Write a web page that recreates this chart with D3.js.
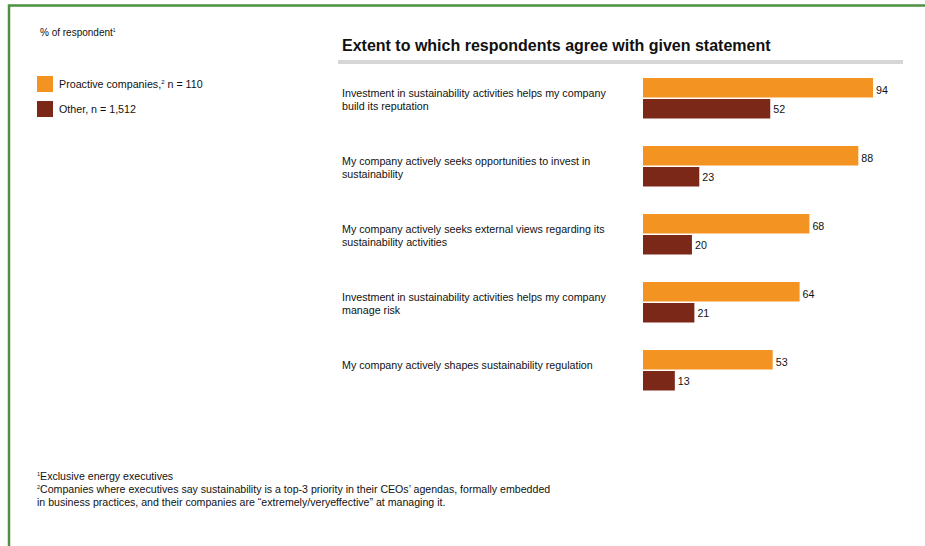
<!DOCTYPE html>
<html>
<head>
<meta charset="utf-8">
<script src="https://cdn.jsdelivr.net/npm/d3@7"></script>
<style>
  body { margin: 0; background: #fff; }
  svg { display: block; font-family: "Liberation Sans", Arial, sans-serif; }
</style>
</head>
<body>
<svg id="chart"></svg>
<script>
// statements (each split into lines as in the original)
var statements = [
  ["Investment in sustainability activities helps my company", "build its reputation"],
  ["My company actively seeks opportunities to invest in", "sustainability"],
  ["My company actively seeks external views regarding its", "sustainability activities"],
  ["Investment in sustainability activities helps my company", "manage risk"],
  ["My company actively shapes sustainability regulation"]
];
var proactive = [94, 88, 68, 64, 53];
var other = [52, 23, 20, 21, 13];
var seriesNames = ["Proactive companies,", "Other, n = 1,512"];
var colors = ["#F39322", "#7C2819"];

var W = 925, H = 546;
var svg = d3.select("#chart").attr("width", W).attr("height", H);

// green frame (top and left only)
svg.append("path")
  .attr("d", "M9,546 V5.5 H925")
  .attr("fill", "none")
  .attr("stroke", "#4E9140")
  .attr("stroke-width", 2.5);

svg.append("text")
  .attr("x", 40).attr("y", 36)
  .attr("font-size", 10).attr("fill", "#111")
  .text("% of respondent")
  .append("tspan").attr("font-size", 5).attr("dy", -4).text("1");

// legend
var legend = svg.append("g");
legend.append("rect").attr("x", 37).attr("y", 76).attr("width", 16).attr("height", 16).attr("fill", colors[0]);
legend.append("rect").attr("x", 37).attr("y", 101).attr("width", 16).attr("height", 16).attr("fill", colors[1]);
var l1 = legend.append("text").attr("x", 59).attr("y", 88).attr("font-size", 10.7).attr("fill", "#111");
l1.append("tspan").text(seriesNames[0]);
l1.append("tspan").attr("font-size", 6).attr("dy", -4).text("2");
l1.append("tspan").attr("dy", 4).text(" n = 110");
legend.append("text").attr("x", 59).attr("y", 113).attr("font-size", 10.7).attr("fill", "#111").text(seriesNames[1]);

// title
svg.append("text")
  .attr("x", 342).attr("y", 51)
  .attr("font-size", 16).attr("font-weight", "bold").attr("fill", "#111")
  .text("Extent to which respondents agree with given statement");
svg.append("rect")
  .attr("x", 338).attr("y", 60).attr("width", 565).attr("height", 4)
  .attr("fill", "#d6d6d6");

// scales
var x = d3.scaleLinear().domain([0, 100]).range([643, 643 + 244.7]);
var y = d3.scaleBand().domain(d3.range(statements.length)).range([78, 78 + 68 * 5]).paddingInner(0);
var barH = 19.5, gap = 1.5;

var groups = svg.selectAll(".grp")
  .data(statements)
  .enter().append("g")
  .attr("class", "grp")
  .attr("transform", function(d, i) { return "translate(0," + y(i) + ")"; });

groups.each(function(d, i) {
  var g = d3.select(this);
  var t = g.append("text").attr("font-size", 10.7).attr("fill", "#111");
  var cy = barH + gap / 2;
  d.forEach(function(line, k) {
    t.append("tspan")
      .attr("x", 342)
      .attr("y", cy - 1 + k * 12.5)
      .text(line);
  });

  [proactive[i], other[i]].forEach(function(v, s) {
    var top = s * (barH + gap);
    g.append("rect")
      .attr("x", x(0)).attr("y", top)
      .attr("width", x(v) - x(0)).attr("height", barH)
      .attr("fill", colors[s]);
    g.append("text")
      .attr("x", x(v) + 3).attr("y", top + barH / 2 + (s === 0 ? 6 : 4.5))
      .attr("font-size", 10.7).attr("fill", "#111")
      .text(v);
  });
});

// footnotes
var fn = svg.append("g").attr("font-size", 10.6).attr("fill", "#111");
var f1 = fn.append("text").attr("x", 37).attr("y", 480);
f1.append("tspan").attr("font-size", 5.5).attr("dy", -4).text("1");
f1.append("tspan").attr("dy", 4).text("Exclusive energy executives");
var f2 = fn.append("text").attr("x", 37).attr("y", 493);
f2.append("tspan").attr("font-size", 5.5).attr("dy", -4).text("2");
f2.append("tspan").attr("dy", 4).text("Companies where executives say sustainability is a top-3 priority in their CEOs\u2019 agendas, formally embedded");
fn.append("text").attr("x", 37).attr("y", 506)
  .text("in business practices, and their companies are \u201Cextremely/veryeffective\u201D at managing it.");
</script>
</body>
</html>
